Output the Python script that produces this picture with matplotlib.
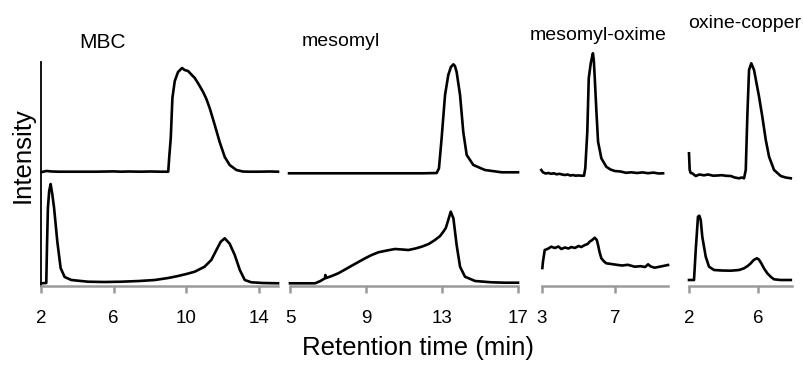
import matplotlib
matplotlib.use("Agg")
import matplotlib.pyplot as plt

plt.rcParams["font.family"] = ["Liberation Sans", "DejaVu Sans"]

# ---- chromatogram data (retention time in min, intensity in arbitrary units) ----
titles = ["MBC", "mesomyl", "mesomyl-oxime", "oxine-copper"]

mbc_std_t = [2.05, 2.3, 2.6, 3.0, 4.0, 5.0, 6.0, 6.4, 6.8, 7.5, 8.0, 8.6, 9.0, 9.06, 9.14,
             9.23, 9.36, 9.54, 9.76, 9.9, 10.09, 10.3, 10.46, 10.7, 10.92, 11.1, 11.28,
             11.56, 11.83, 12.11, 12.38, 12.75, 13.1, 13.4, 14.0, 14.6, 15.04]
mbc_std_i = [4, 5, 4.5, 4.3, 4.3, 4.3, 4.6, 4.3, 4.5, 4.3, 4.5, 4.3, 4.3, 20, 38, 78, 95,
             104, 108, 106, 105, 101, 98, 91, 84, 77, 68, 51, 34, 19, 11, 6, 4.5, 4.3,
             4.3, 4.5, 4.3]
mbc_smp_t = [2.02, 2.29, 2.33, 2.38, 2.45, 2.53, 2.62, 2.72, 2.9, 3.08, 3.3, 3.67, 4.2,
             4.59, 5.5, 6.42, 7.4, 8.26, 9.0, 9.54, 10.0, 10.46, 11.0, 11.37, 11.65,
             11.89, 12.11, 12.38, 12.66, 12.94, 13.21, 13.57, 14.2, 15.04]
mbc_smp_i = [2.7, 3, 40, 78, 95, 102, 92, 78, 44, 18, 9, 6, 5, 4.3, 4, 4.3, 5, 6, 8, 10,
             12, 14.3, 19.3, 26, 36, 44.3, 47.7, 42.3, 31, 16, 6, 3.7, 3, 2.7]

mes_std_t = [4.95, 6, 7, 8, 9, 10, 11, 12, 12.72, 12.84, 12.98, 13.16, 13.33, 13.47, 13.6,
             13.68, 13.77, 13.95, 14.12, 14.3, 14.65, 15.26, 16.14, 17.0]
mes_std_i = [2.7, 2.7, 2.7, 2.7, 2.7, 2.7, 2.7, 2.7, 3.0, 7.7, 37.7, 81, 101, 109, 111.7,
             110, 104, 81, 44, 21, 11, 6, 3.7, 3.7]
mes_smp_t = [5.0, 5.8, 6.32, 6.6, 6.84, 6.86, 6.9, 7.2, 7.54, 7.9, 8.25, 8.6, 8.95, 9.3,
             9.65, 10.1, 10.53, 10.9, 11.23, 11.6, 11.93, 12.3, 12.63, 12.9, 13.07, 13.2,
             13.33, 13.46, 13.6, 13.77, 13.95, 14.21, 14.74, 15.6, 16.3, 17.0]
mes_smp_i = [2.7, 2.7, 2.7, 5, 7.7, 11, 8, 10, 12.7, 16.5, 20.3, 24, 27.7, 31, 33.7, 35.5,
             37, 36.5, 36, 37.5, 39.3, 42, 46, 50, 54.3, 58, 66, 74.3, 67.7, 41, 19.3,
             9.3, 5, 3.7, 3.3, 3.3]

oxm_std_t = [2.96, 3.0, 3.05, 3.2, 3.35, 3.5, 3.65, 3.8, 3.95, 4.1, 4.25, 4.4, 4.55, 4.7,
             4.85, 5.0, 5.15, 5.3, 5.37, 5.48, 5.56, 5.67, 5.73, 5.79, 5.84, 5.89, 5.98,
             6.07, 6.25, 6.52, 6.75, 6.98, 7.3, 7.6, 7.89, 8.2, 8.5, 8.8, 9.1, 9.4, 9.63]
oxm_std_i = [6, 5, 3.7, 2.5, 3, 2.2, 2.7, 1.7, 2.2, 1.5, 1.0, 1.5, 0.5, 0.9, 0.3, 0.6, 0.3,
             0.3, 7.7, 44, 97.7, 112.7, 118, 122.7, 115, 97.7, 64.3, 34.3, 17.7, 9.3,
             6.5, 5, 4.5, 3.2, 3.7, 3.0, 3.6, 2.8, 3.4, 2.5, 2.7]
oxm_smp_t = [3.02, 3.05, 3.1, 3.15, 3.3, 3.51, 3.7, 3.9, 4.06, 4.25, 4.45, 4.61, 4.8, 5.0,
             5.15, 5.35, 5.5, 5.61, 5.75, 5.89, 6.0, 6.07, 6.15, 6.25, 6.4, 6.52, 6.8,
             7.16, 7.4, 7.7, 8.08, 8.4, 8.65, 8.81, 8.95, 9.17, 9.5, 9.9]
oxm_smp_i = [18, 24, 30, 36, 37, 39.3, 38, 39.5, 37, 38.5, 37.5, 39, 38, 40, 39, 41, 42,
             44.3, 46, 48.3, 46, 41, 34, 27.7, 24.5, 22.7, 22, 21, 20.5, 21.2, 19.3, 19.8,
             19.0, 21.7, 19.5, 18.3, 19.5, 21]

oxc_std_t = [2.0, 2.04, 2.1, 2.19, 2.39, 2.6, 2.87, 3.1, 3.4, 3.64, 3.9, 4.15, 4.42, 4.65,
             4.9, 5.05, 5.19, 5.29, 5.38, 5.48, 5.61, 5.77, 6.06, 6.25, 6.45, 6.64, 6.93,
             7.32, 7.6, 7.9]
oxc_std_i = [22.7, 6, 3, 2.7, 0, 1.5, 0.7, 1.5, 0.3, 0.5, 0.8, 0.2, 0, -1.5, -2.3, -1.5,
             -2.3, 6, 59.3, 106, 112.7, 106, 79.3, 59.3, 36, 19.3, 6, 0, -1.5, -2.3]
oxc_smp_t = [2.0, 2.06, 2.29, 2.39, 2.52, 2.6, 2.68, 2.77, 2.97, 3.16, 3.45, 3.9, 4.42,
             4.9, 5.19, 5.4, 5.58, 5.75, 5.93, 6.05, 6.19, 6.35, 6.54, 6.75, 6.93, 7.3, 7.9]
oxc_smp_i = [6, 6, 6, 36, 69.3, 70.3, 66, 49.3, 29.3, 19.3, 16, 15.5, 15.3, 16, 17.7, 20,
             22.7, 26, 27.7, 26.5, 22.7, 17.5, 12.7, 9, 6.7, 6, 6]

x_limits = [(2, 15.04), (5, 17), (3, 9.9), (2, 7.97)]
x_ticks = [[2, 6, 10, 14], [5, 9, 13, 17], [3, 7], [2, 6]]

standards = [(mbc_std_t, mbc_std_i), (mes_std_t, mes_std_i),
             (oxm_std_t, oxm_std_i), (oxc_std_t, oxc_std_i)]
samples = [(mbc_smp_t, mbc_smp_i), (mes_smp_t, mes_smp_i),
           (oxm_smp_t, oxm_smp_i), (oxc_smp_t, oxc_smp_i)]

# ---- layout ----
W, H = 804, 371
fig = plt.figure(figsize=(W / 100, H / 100), dpi=100)

TOP_OFFSET = 110          # vertical shift of the upper trace in each panel
Y_MAX = 224
panel_px = [(41, 237), (290, 228), (542, 126), (689, 103)]   # left, width in pixels
ax_bottom = (H - 286) / H
ax_height = 224 / H

AXIS_GREY = "#9a9a9a"
LW = 1.9

for k in range(4):
    left, width = panel_px[k]
    ax = fig.add_axes([left / W, ax_bottom, width / W, ax_height])
    t, i = standards[k]
    ax.plot(t, [v + TOP_OFFSET for v in i], color="black", lw=LW,
            solid_joinstyle="round", clip_on=False)
    t, i = samples[k]
    ax.plot(t, i, color="black", lw=LW, solid_joinstyle="round", clip_on=False)
    ax.set_xlim(*x_limits[k])
    ax.set_ylim(0, Y_MAX)
    ax.set_xticks(x_ticks[k])
    ax.set_yticks([])
    for s in ("top", "right"):
        ax.spines[s].set_visible(False)
    ax.spines["bottom"].set_color(AXIS_GREY)
    ax.spines["bottom"].set_linewidth(1.8)
    if k == 0:
        ax.spines["left"].set_color("black")
        ax.spines["left"].set_linewidth(1.3)
    else:
        ax.spines["left"].set_visible(False)
    ax.tick_params(axis="x", direction="out", length=5, width=1.8,
                   color=AXIS_GREY, labelsize=13.5, pad=12, labelcolor="black")
    ax.patch.set_alpha(0)

# panel titles
title_pos = [(103, 43), (341, 42), (598, 35), (745, 24)]
title_sizes = [15, 14, 14, 14]
for name, (px, py), fs in zip(titles, title_pos, title_sizes):
    fig.text(px / W, 1 - py / H, name, ha="center", va="center", fontsize=fs)

fig.text(23 / W, 1 - 155 / H, "Intensity", rotation=90, ha="center", va="center",
         fontsize=18.5)
fig.text(418 / W, 1 - 348 / H, "Retention time (min)", ha="center", va="center",
         fontsize=18.5)

fig.savefig("out.png", dpi=100)
